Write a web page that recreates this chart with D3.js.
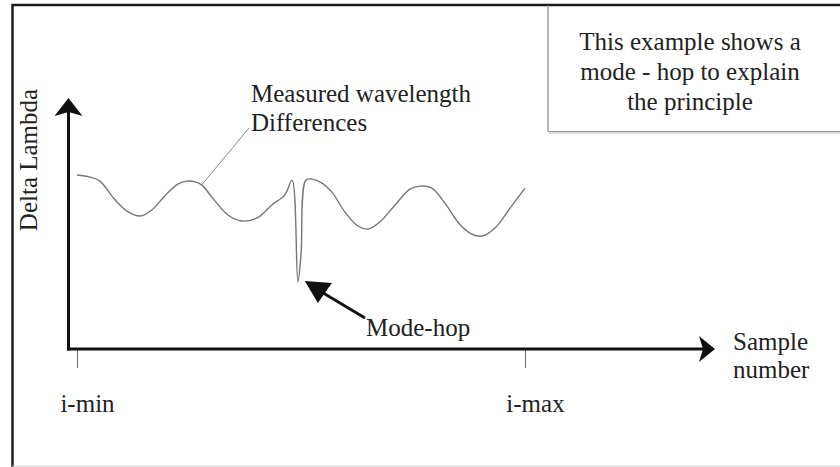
<!DOCTYPE html>
<html>
<head>
<meta charset="utf-8">
<script src="https://cdn.jsdelivr.net/npm/d3@7"></script>
<style>
  html, body { margin: 0; padding: 0; background: #fff; }
  svg { display: block; }
  text { font-family: "Liberation Serif", "DejaVu Serif", serif; fill: #222; }
</style>
</head>
<body>
<svg id="chart" width="840" height="467"></svg>
<script>
// ---- data ----
const sampleIndex = [0, 2.9, 5.1, 8.5, 11.4, 14.1, 16.7, 19.6, 22.5, 24.6, 26.6, 27.9, 30.6, 33.7, 36.8, 40.2, 43.5, 46.4, 48.0, 49.3, 50.0, 51.1, 52.5, 54.7, 56.9, 59.8, 62.7, 65.0, 67.6, 71.0, 74.3, 76.6, 79.2, 82.1, 85.0, 87.7, 90.4, 93.3, 96.7, 100];
const deltaLambda = [6.93, 6.85, 6.69, 5.94, 5.46, 5.30, 5.54, 6.10, 6.57, 6.69, 6.65, 6.53, 5.94, 5.34, 5.10, 5.22, 5.74, 6.14, 6.73, 2.67, 3.75, 6.73, 6.77, 6.61, 6.25, 5.46, 4.90, 4.78, 5.06, 5.74, 6.37, 6.49, 6.41, 5.82, 5.06, 4.62, 4.50, 4.82, 5.62, 6.41];
const tickValues = [0, 100];
const tickLabels = ["i-min", "i-max"];
const xAxisTitle = ["Sample", "number"];
const yAxisTitle = "Delta Lambda";
const curveNote = ["Measured wavelength", "Differences"];
const hopNote = "Mode-hop";
const hopIndex = 49.3;
const hopValue = 2.67;
const boxText = ["This example shows a", "mode - hop to explain", "the principle"];

// ---- drawing ----
const svg = d3.select("#chart");
const x = d3.scaleLinear().domain([0, 100]).range([77, 525]);
const y = d3.scaleLinear().domain([0, 10]).range([349, 98]);
const FS = 25;

// outer frame
svg.append("line").attr("x1", 12).attr("y1", 5).attr("x2", 840).attr("y2", 5)
  .attr("stroke", "#1a1a1a").attr("stroke-width", 2.5);
svg.append("line").attr("x1", 12.5).attr("y1", 4).attr("x2", 12.5).attr("y2", 467)
  .attr("stroke", "#1a1a1a").attr("stroke-width", 2.5);
svg.append("line").attr("x1", 12).attr("y1", 466).attr("x2", 840).attr("y2", 466)
  .attr("stroke", "#cfcfcf").attr("stroke-width", 1);

// text box
svg.append("line").attr("x1", 548).attr("y1", 5).attr("x2", 548).attr("y2", 132)
  .attr("stroke", "#777").attr("stroke-width", 1);
svg.append("line").attr("x1", 548).attr("y1", 131.5).attr("x2", 840).attr("y2", 131.5)
  .attr("stroke", "#999").attr("stroke-width", 1);
svg.append("line").attr("x1", 549).attr("y1", 133).attr("x2", 840).attr("y2", 133)
  .attr("stroke", "#ddd").attr("stroke-width", 2);
boxText.forEach((t, i) => {
  svg.append("text").attr("x", 690).attr("y", 50 + i * 30)
    .attr("text-anchor", "middle").attr("font-size", FS).text(t);
});

// tick marks + labels via d3 axis
const axisG = svg.append("g").attr("transform", `translate(0,${y(0)})`)
  .call(d3.axisBottom(x).tickValues(tickValues).tickSize(19)
    .tickFormat((d, i) => tickLabels[i]));
axisG.select(".domain").remove();
axisG.selectAll(".tick line").attr("stroke", "#666").attr("stroke-width", 1);
axisG.selectAll(".tick text")
  .attr("font-family", "Liberation Serif, serif").attr("font-size", FS)
  .attr("fill", "#222").attr("dx", 10).attr("y", 63).attr("dy", 0);

// main axes
const axisColor = "#111";
const x0 = 68.5, yBase = y(0), xEnd = 713, yEnd = 100;
svg.append("line").attr("x1", x0 - 1.5).attr("y1", yBase).attr("x2", xEnd - 4).attr("y2", yBase)
  .attr("stroke", axisColor).attr("stroke-width", 3);
svg.append("line").attr("x1", x0).attr("y1", yBase + 1.5).attr("x2", x0).attr("y2", yEnd + 8)
  .attr("stroke", axisColor).attr("stroke-width", 3);
// x arrow head
svg.append("path")
  .attr("d", `M${xEnd + 2},${yBase} L${xEnd - 14},${yBase - 13} L${xEnd - 10},${yBase} L${xEnd - 14},${yBase + 13} Z`)
  .attr("fill", axisColor);
// y arrow head
svg.append("path")
  .attr("d", `M${x0},${yEnd - 2} L${x0 - 14},${yEnd + 16} L${x0},${yEnd + 12} L${x0 + 14},${yEnd + 16} Z`)
  .attr("fill", axisColor);

// axis titles
svg.append("text").attr("transform", `translate(37,160) rotate(-90)`)
  .attr("text-anchor", "middle").attr("font-size", FS).text(yAxisTitle);
xAxisTitle.forEach((t, i) => {
  svg.append("text").attr("x", 733).attr("y", 350 + i * 28)
    .attr("font-size", FS).text(t);
});

// data curve
const line = d3.line().x((d, i) => x(sampleIndex[i])).y(d => y(d)).curve(d3.curveCatmullRom.alpha(0.5));
svg.append("path").datum(deltaLambda).attr("d", line)
  .attr("fill", "none").attr("stroke", "#777").attr("stroke-width", 1.4);

// annotation leader for curve
svg.append("line").attr("x1", x(27.9)).attr("y1", y(6.55)).attr("x2", 249).attr("y2", 128)
  .attr("stroke", "#888").attr("stroke-width", 1);
curveNote.forEach((t, i) => {
  svg.append("text").attr("x", 251).attr("y", 102 + i * 29).attr("font-size", FS).text(t);
});

// mode-hop arrow
const tipX = x(hopIndex) + 7, tipY = y(hopValue) - 1;
svg.append("line").attr("x1", 365).attr("y1", 318).attr("x2", tipX + 15).attr("y2", tipY + 10)
  .attr("stroke", "#111").attr("stroke-width", 2.8);
svg.append("path")
  .attr("d", `M${tipX},${tipY} L${tipX + 27},${tipY + 2} L${tipX + 13},${tipY + 22} Z`)
  .attr("fill", "#111");
svg.append("text").attr("x", 366).attr("y", 336).attr("font-size", FS).text(hopNote);
</script>
</body>
</html>
